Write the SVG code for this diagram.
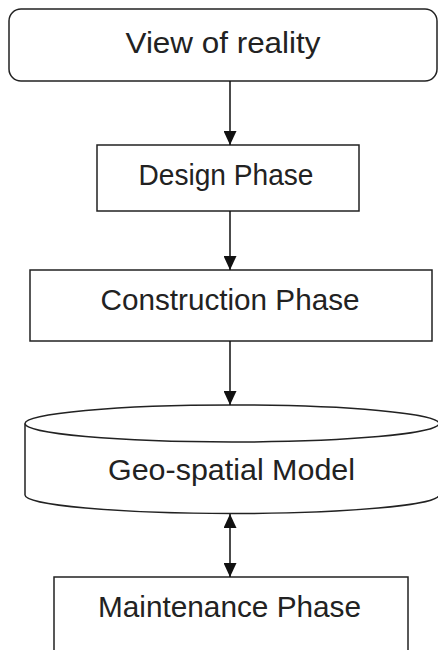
<svg xmlns="http://www.w3.org/2000/svg" width="438" height="650" viewBox="0 0 438 650">
<defs>
<style>
.box{fill:#fff;stroke:#222;stroke-width:1.5}
.lbl{font-family:"Liberation Sans",Arial,sans-serif;font-size:29px;fill:#222;text-anchor:middle}
.con{stroke:#111;stroke-width:1.5;fill:none}
</style>
<marker id="ah" viewBox="0 0 14 13" refX="14" refY="6.5" markerWidth="14" markerHeight="13" markerUnits="userSpaceOnUse" orient="auto-start-reverse">
<path d="M0,0 L14,6.5 L0,13 Z" fill="#111"/>
</marker>
</defs>
<rect width="438" height="650" fill="#fff"/>
<g id="view">
<rect class="box" x="9" y="9" width="428" height="72" rx="12" ry="12"/>
<text class="lbl" x="223" y="53" textLength="195" lengthAdjust="spacingAndGlyphs">View of reality</text>
</g>
<g id="design">
<rect class="box" x="97" y="145" width="262" height="66"/>
<text class="lbl" x="226" y="185" textLength="175" lengthAdjust="spacingAndGlyphs">Design Phase</text>
</g>
<g id="construction">
<rect class="box" x="30" y="270" width="402" height="71"/>
<text class="lbl" x="230" y="310" textLength="259" lengthAdjust="spacingAndGlyphs">Construction Phase</text>
</g>
<g id="model">
<path class="box" d="M25,423.5 L25,495 A207,18.5 0 0 0 439,495 L439,423.5"/>
<ellipse class="box" cx="232" cy="423.5" rx="207" ry="18.5"/>
<text class="lbl" x="231.5" y="480" textLength="247" lengthAdjust="spacingAndGlyphs">Geo-spatial Model</text>
</g>
<g id="maintenance">
<rect class="box" x="54" y="577" width="354" height="90"/>
<text class="lbl" x="229.5" y="617" textLength="263" lengthAdjust="spacingAndGlyphs">Maintenance Phase</text>
</g>
<g id="connectors">
<line class="con" x1="230" y1="81" x2="230" y2="145" marker-end="url(#ah)"/>
<line class="con" x1="230" y1="211" x2="230" y2="270" marker-end="url(#ah)"/>
<line class="con" x1="230" y1="341" x2="230" y2="405" marker-end="url(#ah)"/>
<line class="con" x1="230" y1="514" x2="230" y2="577" marker-start="url(#ah)" marker-end="url(#ah)"/>
</g>
</svg>
